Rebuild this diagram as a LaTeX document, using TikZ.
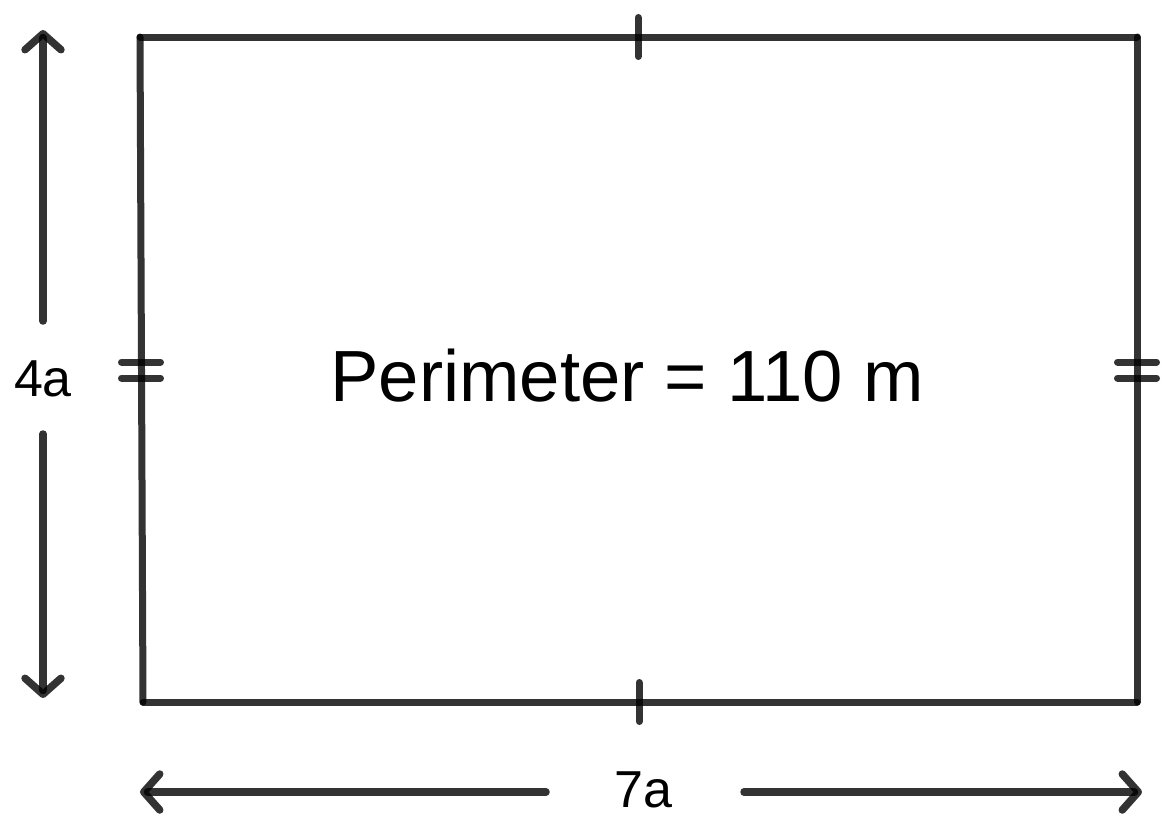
\documentclass[tikz,border=0pt]{standalone}
\usepackage{fontspec}
\setmainfont{Liberation Sans}
\usetikzlibrary{arrows.meta}
\tikzset{%
  side/.style={draw=black,draw opacity=0.8,line width=7pt,line cap=round},
  tick mark/.style={side},
  dim arrow/.style={side,line width=7.5pt,
    -{Straight Barb[length=16pt,width=36pt,round]}},
  dim label/.style={inner sep=0pt,anchor=base,font=\fontsize{52}{60}\selectfont},
  area label/.style={inner sep=0pt,anchor=base,font=\fontsize{72.5}{84}\selectfont}
}
\begin{document}
\begin{tikzpicture}[x=1pt,y=-1pt]
\useasboundingbox (0,0) rectangle (1175,838);
\def\Tk{19.5} % half length of a tick

% corners of the field
\coordinate (TL) at (140,37);
\coordinate (TR) at (1137,37);
\coordinate (BR) at (1137,702);
\coordinate (BL) at (143,702);

\draw[side] (TL) -- (TR);
\draw[side] (TR) -- (BR);
\draw[side] (BR) -- (BL);
\draw[side] (BL) -- (TL);

% equal side marks
\draw[tick mark] (638,37-\Tk) -- (638,37+\Tk);
\draw[tick mark] (639,702-\Tk) -- (639,702+\Tk);
\foreach \y in {362,378}{
  \draw[tick mark] (141-\Tk,\y) -- (141+\Tk,\y);
  \draw[tick mark] (1137-\Tk,\y) -- (1137+\Tk,\y);
}

\node[area label] (per) at (627,401) {Perimeter = 110 m};

% height
\node[dim label] (h) at (43,396) {4a};
\coordinate (hTop) at (43,30);
\coordinate (hBot) at (43,698);
\draw[dim arrow] (43,321) -- (hTop);
\draw[dim arrow] (43,434) -- (hBot);

% width
\node[dim label] (w) at (643,807) {7a};
\coordinate (wL) at (140,792);
\coordinate (wR) at (1142,792);
\draw[dim arrow] (546,792) -- (wL);
\draw[dim arrow] (744,792) -- (wR);
\end{tikzpicture}
\end{document}
